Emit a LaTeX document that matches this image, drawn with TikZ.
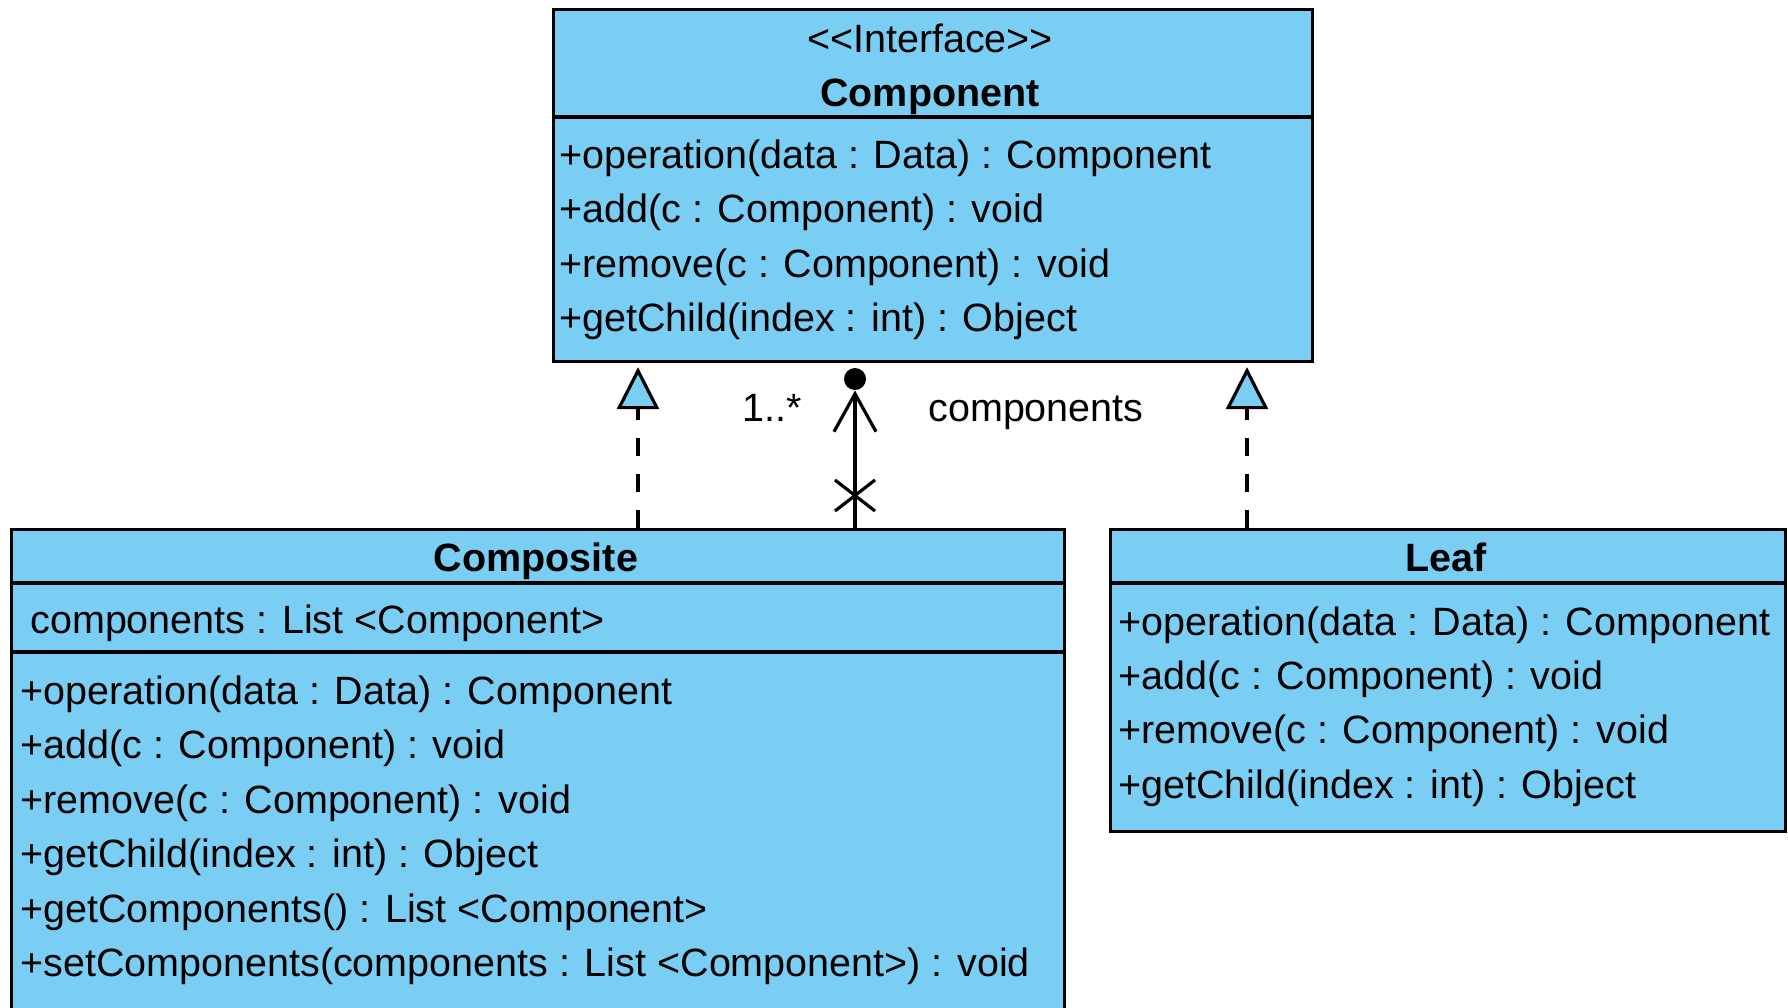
\documentclass[tikz,border=0pt]{standalone}
\usepackage{fontspec}
\setmainfont{Liberation Sans}
\usetikzlibrary{arrows.meta,calc}
\definecolor{umlblue}{RGB}{122,206,244}
\tikzset{
  classbox/.style={draw=black, fill=umlblue, line width=1.6pt, rectangle,
    inner sep=0pt, anchor=north west},
  rule/.style={line width=1.6pt},
  member/.style={anchor=base west, inner sep=0pt,
    font=\fontsize{19.75}{24}\selectfont},
  classname/.style={anchor=base, inner sep=0pt,
    font=\fontsize{19.75}{24}\selectfont\bfseries},
  stereo/.style={anchor=base, inner sep=0pt,
    font=\fontsize{19.75}{24}\selectfont},
  realize/.style={line width=1.6pt, dash pattern=on 9pt off 9pt,
    -{Triangle[open, fill=umlblue, length=21pt, width=21pt]}, shorten >=2pt},
  assoc/.style={line width=1.6pt,
    -{Straight Barb[length=19pt, width=21pt]}},
  rolelabel/.style={anchor=base, inner sep=0pt,
    font=\fontsize{19.75}{24}\selectfont},
}
\begin{document}
\begin{tikzpicture}[x=0.5pt, y=-0.5pt]
\useasboundingbox (0,0) rectangle (1788,1007);
\clip (0,0) rectangle (1788,1007);

% ---- interface Component ----
\node[classbox, minimum width=379.5pt, minimum height=176pt] (compT) at (552,8) {};
\draw[rule] ($(compT.north west)+(0,109)$) -- ($(compT.north east)+(0,109)$);
\node[stereo] (compS) at (930,52) {<\kern0pt<Interface>\kern0pt>};
\node[classname] (compN) at (930,106) {Component};
\node[member] (compO1) at (559,168)   {+operation(data : Data) : Component};
\node[member] (compO2) at (559,222.5) {+add(c : Component) : void};
\node[member] (compO3) at (559,277)   {+remove(c : Component) : void};
\node[member] (compO4) at (559,331)   {+getChild(index : int) : Object};

% ---- class Composite ----
\node[classbox, minimum width=526.5pt, minimum height=251pt] (compo) at (10,528) {};
\draw[rule] ($(compo.north west)+(0,55)$) -- ($(compo.north east)+(0,55)$);
\draw[rule] ($(compo.north west)+(0,124)$) -- ($(compo.north east)+(0,124)$);
\node[classname] (compoN) at (536,571) {Composite};
\node[member] (compoA) at (30,633) {components : List <Component>};
\node[member] (compoO1) at (20,704) {+operation(data : Data) : Component};
\node[member] (compoO2) at (20,758.5) {+add(c : Component) : void};
\node[member] (compoO3) at (20,813) {+remove(c : Component) : void};
\node[member] (compoO4) at (20,867.5) {+getChild(index : int) : Object};
\node[member] (compoO5) at (20,922) {+getComponents() : List <Component>};
\node[member] (compoO6) at (20,976) {+setComponents(components : List <Component>) : void};

% ---- class Leaf ----
\node[classbox, minimum width=337.5pt, minimum height=151pt] (leaf) at (1109,528) {};
\draw[rule] ($(leaf.north west)+(0,55)$) -- ($(leaf.north east)+(0,55)$);
\node[classname] (leafN) at (1446,571) {Leaf};
\node[member] (leafO1) at (1118,635) {+operation(data : Data) : Component};
\node[member] (leafO2) at (1118,689) {+add(c : Component) : void};
\node[member] (leafO3) at (1118,743) {+remove(c : Component) : void};
\node[member] (leafO4) at (1118,798) {+getChild(index : int) : Object};

% ---- realizations ----
\coordinate (r1) at (638,0);
\coordinate (r2) at (1247,0);
\draw[realize] (compo.north -| r1) -- (compT.south -| r1);
\draw[realize] (leaf.north -| r2) -- (compT.south -| r2);

% ---- composition: Composite owns 1..* Component ----
\node[circle, fill=black, minimum size=11pt, inner sep=0pt] (dot) at (855,379) {};
\draw[assoc] (compo.north -| dot) -- (dot.south);
\coordinate (xm) at (855,495.5);
\draw[line width=1.6pt] ($(xm)+(-20,-15.5)$) -- ($(xm)+(20,15.5)$);
\draw[line width=1.6pt] ($(xm)+(-20,15.5)$) -- ($(xm)+(20,-15.5)$);
\node[rolelabel, anchor=base east] (mult) at (802,421) {1..*};
\node[rolelabel, anchor=base west] (role) at (928,421) {components};
\end{tikzpicture}
\end{document}
